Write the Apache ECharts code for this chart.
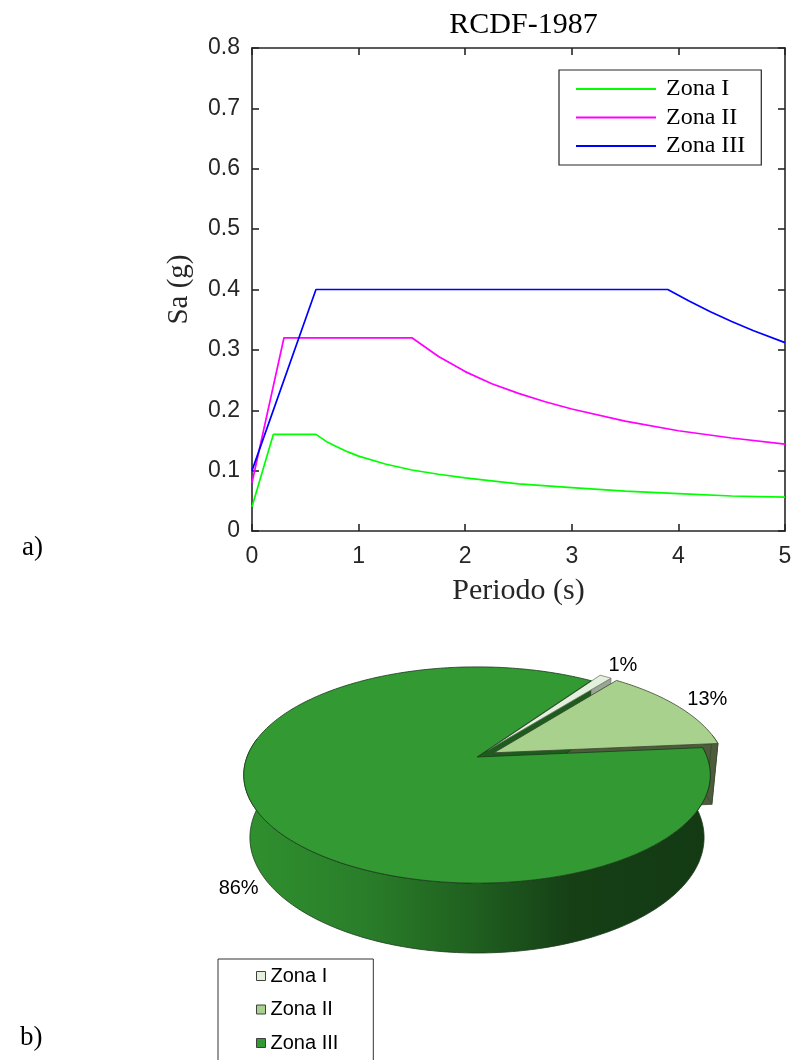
<!DOCTYPE html>
<html>
<head>
<meta charset="utf-8">
<script src="https://cdn.jsdelivr.net/npm/echarts@6/dist/echarts.min.js"></script>
<style>
  html, body { margin: 0; padding: 0; background: #fff; }
  #chart { width: 791px; height: 1060px; }
</style>
</head>
<body>
<div id="chart"></div>
<script>
// ---- a) design spectra (Sa vs period) ----
const zonas = ['Zona I', 'Zona II', 'Zona III'];
const lineColors = ['#00ff00', '#ff00ff', '#0000ff'];

const periodoI = [0, 0.2, 0.6, 0.7, 0.8, 0.9, 1.0, 1.25, 1.5, 1.75, 2.0, 2.5, 3.0, 3.5, 4.0, 4.5, 5.0];
const saI      = [0.04, 0.16, 0.16, 0.148, 0.139, 0.131, 0.124, 0.111, 0.101, 0.094, 0.088, 0.078, 0.072, 0.066, 0.062, 0.058, 0.056];

const periodoII = [0, 0.3, 1.5, 1.75, 2.0, 2.25, 2.5, 2.75, 3.0, 3.5, 4.0, 4.5, 5.0];
const saII      = [0.08, 0.32, 0.32, 0.289, 0.264, 0.244, 0.228, 0.214, 0.202, 0.182, 0.166, 0.154, 0.144];

const periodoIII = [0, 0.6, 3.9, 4.1, 4.3, 4.5, 4.7, 5.0];
const saIII      = [0.10, 0.40, 0.40, 0.381, 0.363, 0.347, 0.332, 0.312];

const xTicks = [0, 1, 2, 3, 4, 5];
const yTicks = [0, 0.1, 0.2, 0.3, 0.4, 0.5, 0.6, 0.7, 0.8];

// ---- b) share of each zone ----
const porcentajes = [1, 13, 86];
const pieTop   = ['#e3f0dc', '#a9d18e', '#339933'];

// ---- pie projection (tilted disc with perspective) ----
const PIE = { cx: 477, cy: 757, S: 230, tilt: 27.2 * Math.PI / 180, D: 5.34, h: 0.31,
              startDeg: 34.4, explode: [0.085, 0.085, 0] };

function proj(X, Y, Z) {
  const sa = Math.sin(PIE.tilt), ca = Math.cos(PIE.tilt);
  const v = Z * sa - Y * ca;
  const w = Z * ca + Y * sa;
  const s = PIE.D / (PIE.D - w);
  return [PIE.cx + PIE.S * X * s, PIE.cy + PIE.S * v * s];
}
function arc(Y, a, b, ox, oz) {
  const pts = [];
  const n = Math.max(2, Math.ceil(Math.abs(b - a) / (Math.PI / 180)));
  for (let i = 0; i <= n; i++) {
    const t = a + (b - a) * i / n;
    pts.push(proj(ox + Math.cos(t), Y, oz + Math.sin(t)));
  }
  return pts;
}
const deg = Math.PI / 180;

const sliceStyles = [
  { side: '#b5c2ae', face: '#9aa596', stroke: '#6f7a6c' },
  { side: '#4d5d3b', face: '#4d5d3b', stroke: '#3b4630' },
  { side: { type: 'linear', x: 243, y: 0, x2: 712, y2: 0, global: true,
            colorStops: [ { offset: 0, color: '#30902f' }, { offset: 0.25, color: '#2a7f2a' },
                          { offset: 0.5, color: '#1f5e1f' }, { offset: 0.7, color: '#163f16' },
                          { offset: 1, color: '#133a13' } ] },
    face: '#1e5c1e', stroke: '#1a3a1a' }
];

function sliceRenderer(i) {
  return function () {
    const total = porcentajes.reduce((s, v) => s + v, 0);
    const before = porcentajes.slice(0, i).reduce((s, v) => s + v, 0);
    const a = (PIE.startDeg + 360 * before / total - 90) * deg;
    const b = a + 360 * porcentajes[i] / total * deg;
    const mid = (a + b) / 2;
    const e = PIE.explode[i];
    const ox = e * Math.cos(mid), oz = e * Math.sin(mid);
    const st = sliceStyles[i];
    const children = [];
    const h = PIE.h;

    // outer wall, only the part that faces the viewer
    const ranges = [[-10 * deg, 190 * deg], [350 * deg, 550 * deg]];
    ranges.forEach(([lo, hi]) => {
      const s0 = Math.max(a, lo), s1 = Math.min(b, hi);
      if (s1 > s0) {
        const pts = arc(0, s0, s1, ox, oz).concat(arc(-h, s0, s1, ox, oz).reverse());
        children.push({ type: 'polygon', z2: 11 + i * 2, shape: { points: pts },
          style: { fill: st.side, stroke: st.stroke, lineWidth: 0.8 } });
      }
    });
    // radial cut faces
    const face = (t) => [proj(ox, 0, oz), proj(ox + Math.cos(t), 0, oz + Math.sin(t)),
                         proj(ox + Math.cos(t), -h, oz + Math.sin(t)), proj(ox, -h, oz)];
    if (Math.cos(b) > -0.05) {
      children.push({ type: 'polygon', z2: 10 + i * 2, shape: { points: face(b) },
        style: { fill: st.face, stroke: st.stroke, lineWidth: 0.8 } });
    }
    if (Math.cos(a) < 0.05) {
      children.push({ type: 'polygon', z2: 10 + i * 2, shape: { points: face(a) },
        style: { fill: st.face, stroke: st.stroke, lineWidth: 0.8 } });
    }
    // top face
    const top = [proj(ox, 0, oz)].concat(arc(0, a, b, ox, oz));
    children.push({ type: 'polygon', z2: 50 + i, shape: { points: top },
      style: { fill: pieTop[i], stroke: st.stroke, lineWidth: 0.8 } });
    // percentage label
    const front = Math.sin(mid) > 0;
    const r = (front ? 1.12 : 1.17) + e;
    const p = proj(r * Math.cos(mid), front ? -h : 0, r * Math.sin(mid));
    children.push({ type: 'text', z2: 100,
      style: { text: porcentajes[i] + '%', x: p[0], y: p[1], fill: '#000',
               fontSize: 20, fontFamily: 'Liberation Sans', align: 'center', verticalAlign: 'middle' } });
    return { type: 'group', children };
  };
}

const pts = (xs, ys) => xs.map((x, k) => [x, ys[k]]);
const lineData = [pts(periodoI, saI), pts(periodoII, saII), pts(periodoIII, saIII)];

const axisCol = '#262626';
const tickFont = { fontFamily: 'Liberation Sans', fontSize: 23, color: axisCol };

const series = zonas.map((z, k) => ({
  name: z, type: 'line', data: lineData[k], symbol: 'none', color: lineColors[k],
  lineStyle: { width: 1.7, color: lineColors[k] }, xAxisIndex: 0, yAxisIndex: 0, z: 3
})).concat(zonas.map((z, k) => ({
  name: 'pie:' + z, type: 'custom', coordinateSystem: 'none', data: [[porcentajes[k]]],
  renderItem: sliceRenderer(k), itemStyle: { color: pieTop[k] }, silent: true, z: 2
})));

const chart = echarts.init(document.getElementById('chart'), null, { renderer: 'canvas' });
chart.setOption({
  animation: false,
  backgroundColor: '#ffffff',
  title: {
    text: 'RCDF-1987', left: 518.5, textAlign: 'center', top: 5,
    textStyle: { fontFamily: 'Liberation Serif', fontSize: 30, fontWeight: 'normal', color: '#000' }
  },
  grid: { left: 252, right: 6, top: 48, height: 483, containLabel: false, outerBoundsMode: 'none' },
  xAxis: [
    { type: 'value', position: 'bottom', min: xTicks[0], max: xTicks[xTicks.length - 1], interval: 1,
      name: 'Periodo (s)', nameLocation: 'middle', nameGap: 45,
      nameTextStyle: { fontFamily: 'Liberation Serif', fontSize: 30, color: axisCol },
      axisLine: { show: true, onZero: false, lineStyle: { color: axisCol, width: 1.6 } },
      axisTick: { show: true, inside: true, length: 7, lineStyle: { color: axisCol, width: 1.6 } },
      axisLabel: { ...tickFont, margin: 14 }, splitLine: { show: false } },
    { type: 'value', position: 'top', min: xTicks[0], max: xTicks[xTicks.length - 1], interval: 1,
      axisLine: { show: true, onZero: false, lineStyle: { color: axisCol, width: 1.6 } },
      axisTick: { show: true, inside: true, length: 7, lineStyle: { color: axisCol, width: 1.6 } },
      axisLabel: { show: false }, splitLine: { show: false } }
  ],
  yAxis: [
    { type: 'value', position: 'left', min: yTicks[0], max: yTicks[yTicks.length - 1], interval: 0.1,
      name: 'Sa (g)', nameLocation: 'middle', nameGap: 58,
      nameTextStyle: { fontFamily: 'Liberation Serif', fontSize: 29, color: axisCol },
      axisLine: { show: true, onZero: false, lineStyle: { color: axisCol, width: 1.6 } },
      axisTick: { show: true, inside: true, length: 7, lineStyle: { color: axisCol, width: 1.6 } },
      axisLabel: { ...tickFont, margin: 12, formatter: v => (v === 0 ? '0' : v.toFixed(1)) },
      splitLine: { show: false } },
    { type: 'value', position: 'right', min: yTicks[0], max: yTicks[yTicks.length - 1], interval: 0.1,
      axisLine: { show: true, onZero: false, lineStyle: { color: axisCol, width: 1.6 } },
      axisTick: { show: true, inside: true, length: 7, lineStyle: { color: axisCol, width: 1.6 } },
      axisLabel: { show: false }, splitLine: { show: false } }
  ],
  legend: [
    { data: zonas, orient: 'vertical', left: 559, top: 70, icon: 'rect', itemWidth: 80, itemHeight: 2,
      itemGap: 4.5, padding: [7, 16, 7, 17], backgroundColor: '#fff',
      borderColor: axisCol, borderWidth: 1.2, selectedMode: false,
      textStyle: { fontFamily: 'Liberation Serif', fontSize: 24, lineHeight: 24, color: '#000', padding: [0, 0, 0, 5] } },
    { data: zonas.map(z => 'pie:' + z), orient: 'vertical', left: 218, top: 959, height: 140, icon: 'rect',
      itemWidth: 9, itemHeight: 9, itemGap: 13.5, padding: [7, 35, 8, 38], backgroundColor: '#fff',
      borderColor: '#333', borderWidth: 1, selectedMode: false,
      itemStyle: { borderColor: '#404040', borderWidth: 1 },
      formatter: n => n.replace('pie:', ''),
      textStyle: { fontFamily: 'Liberation Sans', fontSize: 20, lineHeight: 20, color: '#000' } }
  ],
  graphic: [
    { type: 'text', left: 22, top: 534, style: { text: 'a)', fontFamily: 'Liberation Serif', fontSize: 27, fill: '#000' } },
    { type: 'text', left: 20, top: 1024, style: { text: 'b)', fontFamily: 'Liberation Serif', fontSize: 27, fill: '#000' } }
  ],
  series
});
</script>
</body>
</html>
